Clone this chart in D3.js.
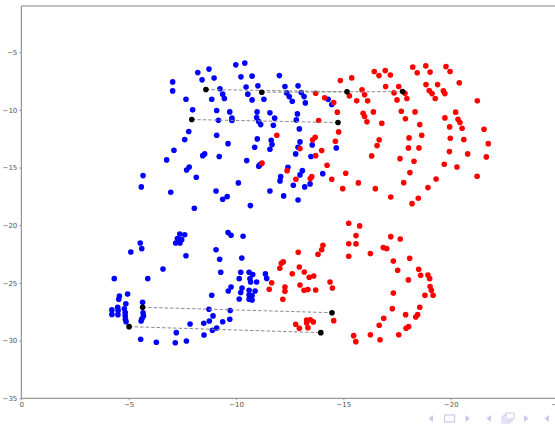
<!DOCTYPE html>
<html>
<head>
<meta charset="utf-8">
<script src="https://cdn.jsdelivr.net/npm/d3@7"></script>
<style>
  html, body { margin: 0; padding: 0; background: #fff; overflow: hidden; }
  svg { display: block; }
</style>
</head>
<body>
<svg id="chart" width="555" height="427"></svg>
<script>
// Point sets: source shape (blue), target shape (red), matched pairs (black, dashed links)
const blueUpper = [
  [-8.22,-6.77],[-8.74,-6.47],[-7.05,-7.58],[-8.42,-7.40],[-7.05,-8.36],[-7.67,-9.08],[-7.98,-10.00],
  [-7.80,-11.88],[-7.61,-12.58],[-7.11,-13.50],[-6.77,-14.34],[-8.54,-13.82],[-8.45,-13.97],[-7.82,-14.95],
  [-7.70,-15.21],[-8.15,-15.84],[-5.67,-15.70],[-5.59,-16.68],[-6.96,-17.14],[-8.06,-18.53],[-8.98,-7.25],
  [-9.99,-6.10],[-10.41,-5.95],[-10.23,-7.14],[-10.75,-7.08],[-12.02,-7.03],[-9.25,-8.18],[-10.47,-8.03],
  [-11.02,-7.92],[-9.38,-8.64],[-9.46,-9.02],[-8.87,-9.08],[-10.55,-8.64],[-10.75,-9.14],[-11.30,-9.08],
  [-12.28,-7.98],[-12.89,-7.92],[-12.36,-8.53],[-12.48,-8.85],[-12.62,-9.25],[-13.04,-8.50],[-13.17,-8.85],
  [-13.23,-9.40],[-9.10,-10.06],[-9.71,-10.18],[-10.98,-10.18],[-11.58,-10.26],[-12.86,-10.35],[-9.18,-10.90],
  [-9.81,-10.72],[-9.81,-10.93],[-10.96,-10.67],[-11.06,-11.02],[-11.15,-11.28],[-11.80,-10.72],[-11.74,-11.33],
  [-12.81,-10.87],[-12.95,-11.65],[-9.10,-12.20],[-9.63,-12.93],[-10.99,-12.52],[-11.64,-12.63],[-11.68,-13.01],
  [-10.87,-13.24],[-11.58,-13.41],[-12.98,-12.78],[-12.89,-13.24],[-12.78,-13.82],[-13.55,-13.04],[-13.49,-14.05],
  [-9.22,-14.05],[-10.50,-14.40],[-11.12,-14.75],[-11.06,-14.88],[-10.11,-16.33],[-12.42,-14.97],[-12.08,-15.79],
  [-12.05,-16.16],[-13.09,-15.27],[-12.98,-15.64],[-14.04,-15.53],[-13.45,-16.42],[-12.67,-16.53],[-13.20,-16.68],
  [-9.07,-17.03],[-9.59,-17.52],[-9.38,-17.75],[-11.58,-17.03],[-12.22,-17.46],[-12.89,-17.81],[-14.29,-9.08],
  [-14.46,-9.54],[-14.67,-13.30],[-10.67,-18.30]
];

const blueLower = [
  [-7.38,-20.76],[-7.61,-20.82],[-7.27,-21.16],[-7.47,-21.25],[-7.19,-21.54],[-7.39,-21.54],[-5.54,-21.54],
  [-5.61,-22.03],[-5.10,-22.32],[-7.67,-22.64],[-6.60,-23.79],[-4.33,-24.63],[-5.89,-24.63],[-9.63,-20.64],
  [-9.77,-20.87],[-10.33,-20.95],[-9.07,-22.12],[-9.24,-22.95],[-10.27,-22.84],[-9.29,-24.08],[-10.22,-24.08],
  [-10.61,-24.08],[-10.15,-24.63],[-10.65,-24.63],[-10.78,-24.28],[-10.96,-24.92],[-10.68,-24.92],[-11.37,-24.22],
  [-11.43,-24.61],[-9.77,-25.35],[-9.64,-25.70],[-10.28,-25.44],[-10.22,-25.83],[-10.61,-25.64],[-10.89,-25.70],
  [-10.15,-26.39],[-10.61,-26.04],[-10.75,-26.09],[-10.61,-26.42],[-10.75,-26.48],[-8.87,-26.07],[-4.95,-25.97],
  [-4.57,-26.13],[-4.54,-26.41],[-4.87,-26.80],[-5.65,-26.68],[-4.22,-27.34],[-4.22,-27.73],[-4.49,-27.11],
  [-4.51,-27.40],[-4.50,-27.75],[-4.80,-27.24],[-4.84,-27.56],[-4.84,-27.86],[-4.85,-28.15],[-4.88,-28.36],
  [-5.67,-27.58],[-5.69,-27.86],[-5.62,-28.10],[-5.58,-28.30],[-8.74,-27.28],[-9.73,-27.40],[-8.93,-27.86],
  [-8.76,-28.30],[-8.50,-28.50],[-7.86,-28.56],[-9.10,-28.91],[-8.90,-29.10],[-9.38,-28.36],[-9.71,-28.15],
  [-7.22,-29.31],[-8.51,-29.51],[-5.56,-29.88],[-6.29,-30.14],[-7.17,-30.18],[-7.69,-30.03]
];

const redUpper = [
  [-14.86,-7.46],[-13.71,-8.56],[-14.13,-8.96],[-14.55,-9.37],[-15.28,-8.79],[-14.72,-10.20],[-13.85,-10.93],
  [-14.78,-11.91],[-11.90,-12.20],[-13.69,-12.37],[-13.57,-12.60],[-12.98,-13.36],[-14.63,-12.72],[-13.99,-13.53],
  [-13.71,-13.97],[-14.24,-14.80],[-11.21,-14.62],[-12.38,-15.27],[-12.79,-16.01],[-13.53,-15.79],[-13.46,-15.96],
  [-14.46,-16.01],[-15.11,-15.49],[-14.97,-16.83],[-15.39,-7.23],[-16.44,-6.68],[-16.66,-7.03],[-16.95,-6.60],
  [-17.19,-6.99],[-18.23,-6.30],[-18.44,-6.79],[-18.84,-6.19],[-19.04,-6.73],[-19.78,-6.25],[-19.97,-6.68],
  [-15.87,-8.27],[-15.99,-8.70],[-15.62,-9.22],[-16.13,-9.22],[-16.97,-7.98],[-17.58,-7.98],[-17.36,-8.53],
  [-17.87,-8.56],[-17.50,-9.14],[-17.96,-9.02],[-18.85,-7.81],[-19.39,-7.81],[-19.00,-8.33],[-19.13,-8.59],
  [-19.66,-8.36],[-19.73,-8.59],[-19.28,-9.02],[-20.40,-7.66],[-21.24,-9.22],[-15.92,-10.29],[-15.99,-10.58],
  [-16.40,-10.18],[-16.10,-11.04],[-16.79,-11.16],[-17.70,-10.12],[-18.34,-10.18],[-17.89,-10.78],[-18.56,-11.28],
  [-20.23,-10.20],[-19.73,-10.70],[-20.34,-10.81],[-20.43,-11.10],[-20.53,-11.59],[-19.95,-11.48],[-21.55,-11.68],
  [-16.67,-12.60],[-16.57,-13.10],[-16.32,-13.99],[-18.06,-12.43],[-18.65,-12.20],[-18.03,-13.30],[-18.52,-13.30],
  [-17.64,-14.23],[-18.29,-14.45],[-18.10,-15.44],[-19.98,-12.46],[-20.61,-12.58],[-21.75,-12.93],[-19.94,-13.62],
  [-20.79,-13.82],[-21.66,-14.08],[-19.70,-14.71],[-20.29,-14.95],[-21.23,-15.75],[-15.70,-16.33],[-16.49,-16.83],
  [-17.81,-16.31],[-19.32,-15.99],[-18.94,-16.74],[-17.21,-17.55],[-18.49,-17.66],[-18.20,-18.13]
];

const redLower = [
  [-15.25,-19.83],[-15.76,-20.06],[-15.59,-20.90],[-15.25,-21.60],[-15.59,-21.62],[-15.25,-22.69],[-16.26,-22.46],
  [-17.21,-20.99],[-17.65,-21.19],[-16.86,-21.94],[-17.02,-22.03],[-18.09,-22.86],[-17.33,-23.10],[-17.53,-23.90],
  [-18.51,-23.82],[-18.60,-24.34],[-18.03,-24.74],[-18.94,-24.31],[-19.02,-24.63],[-19.04,-25.32],[-19.10,-25.64],
  [-18.80,-26.07],[-19.18,-26.07],[-17.33,-25.87],[-18.56,-27.11],[-17.28,-27.23],[-17.90,-27.75],[-18.46,-27.75],
  [-18.37,-27.95],[-16.88,-28.06],[-16.67,-28.67],[-18.04,-28.79],[-17.92,-28.93],[-16.26,-29.49],[-17.58,-29.49],
  [-16.71,-29.92],[-15.48,-29.57],[-15.58,-30.09],[-12.90,-22.34],[-13.82,-22.51],[-13.99,-22.12],[-14.05,-21.73],
  [-12.20,-23.18],[-12.11,-23.30],[-12.04,-23.73],[-12.62,-24.20],[-12.95,-23.62],[-13.18,-24.05],[-13.41,-24.51],
  [-13.62,-24.40],[-14.38,-24.92],[-14.49,-25.44],[-11.66,-24.98],[-11.55,-25.55],[-12.28,-25.35],[-12.28,-25.72],
  [-12.98,-25.18],[-13.17,-25.64],[-13.35,-25.58],[-13.71,-25.61],[-12.18,-26.42],[-14.55,-28.27],[-12.78,-28.58],
  [-12.95,-28.93],[-13.29,-28.21],[-13.46,-28.19],[-13.60,-28.38],[-13.29,-28.47],[-13.35,-28.88]
];

// matched pairs: [source, target]
const matchSource = [[-8.60,-8.24],[-11.20,-8.47],[-7.94,-10.84],[-5.65,-27.11],[-5.02,-28.79]];
const matchTarget = [[-15.17,-8.44],[-17.76,-8.42],[-14.75,-11.10],[-14.47,-27.58],[-13.95,-29.31]];

const xTicks = [0, -5, -10, -15, -20, -25];
const yTicks = [-5, -10, -15, -20, -25, -30, -35];

(function draw() {
  const svg = d3.select("#chart");
  const mLeft = 21.3, mTop = 6, mBottom = 398.3;
  const x = d3.scaleLinear().domain([0, -26]).range([mLeft, mLeft + 26 * 21.47]);
  const y = d3.scaleLinear().domain([-35, -1]).range([mBottom, mTop]);

  const axisColor = "#808080";
  const fmt = d => String(d).replace("-", "\u2212");

  // axes
  const gx = svg.append("g").attr("transform", `translate(0,${mBottom})`)
    .call(d3.axisBottom(x).tickValues(xTicks).tickSize(2).tickPadding(2).tickFormat(fmt));
  const gy = svg.append("g").attr("transform", `translate(${mLeft},0)`)
    .call(d3.axisLeft(y).tickValues(yTicks).tickSize(2).tickPadding(2).tickFormat(fmt));
  [gx, gy].forEach(g => {
    g.select(".domain").remove();
    g.selectAll(".tick line").attr("stroke", axisColor).attr("stroke-width", 0.8);
    g.selectAll(".tick text").attr("fill", "#555")
      .style("font-family", "DejaVu Sans, sans-serif").style("font-size", "7px");
  });

  // spines
  const spine = (x1, y1, x2, y2) => svg.append("line")
    .attr("x1", x1).attr("y1", y1).attr("x2", x2).attr("y2", y2)
    .attr("stroke", axisColor).attr("stroke-width", 1);
  spine(mLeft, mTop, mLeft, mBottom);
  spine(mLeft, mTop, x(-26), mTop);
  spine(mLeft, mBottom, x(-26), mBottom);

  function dots(data, color) {
    svg.append("g").selectAll("circle").data(data).join("circle")
      .attr("cx", d => x(d[0])).attr("cy", d => y(d[1])).attr("r", 2.8).attr("fill", color);
  }

  dots(blueUpper, "#0000ff");
  dots(blueLower, "#0000ff");
  dots(redUpper, "#ff0000");
  dots(redLower, "#ff0000");

  // dashed correspondence links
  svg.append("g").selectAll("line").data(d3.zip(matchSource, matchTarget)).join("line")
    .attr("x1", d => x(d[0][0])).attr("y1", d => y(d[0][1]))
    .attr("x2", d => x(d[1][0])).attr("y2", d => y(d[1][1]))
    .attr("stroke", "#8c8c8c").attr("stroke-width", 1).attr("stroke-dasharray", "3.5,2");

  dots(matchSource, "#000000");
  dots(matchTarget, "#000000");

  // slide navigation symbols
  const nav = svg.append("g").attr("fill", "#c9c9ee").attr("stroke", "#c9c9ee");
  const tri = (cx, cy, dir) => nav.append("path")
    .attr("d", dir < 0
      ? `M${cx + 2},${cy - 3.5}L${cx - 2.5},${cy}L${cx + 2},${cy + 3.5}Z`
      : `M${cx - 2},${cy - 3.5}L${cx + 2.5},${cy}L${cx - 2},${cy + 3.5}Z`)
    .attr("stroke", "none");
  tri(431, 418.5, -1);
  nav.append("rect").attr("x", 444.5).attr("y", 415).attr("width", 10).attr("height", 7)
    .attr("fill", "none").attr("stroke-width", 1.2);
  tri(467.5, 418.5, 1);
  tri(489, 418.5, -1);
  [[502, 417], [504, 415], [506, 413]].forEach(([rx, ry]) => {
    nav.append("rect").attr("x", rx).attr("y", ry).attr("width", 8).attr("height", 6)
      .attr("fill", "#fff").attr("stroke-width", 1);
  });
  tri(526, 418.5, 1);
  tri(547, 418.5, -1);
})();
</script>
</body>
</html>
